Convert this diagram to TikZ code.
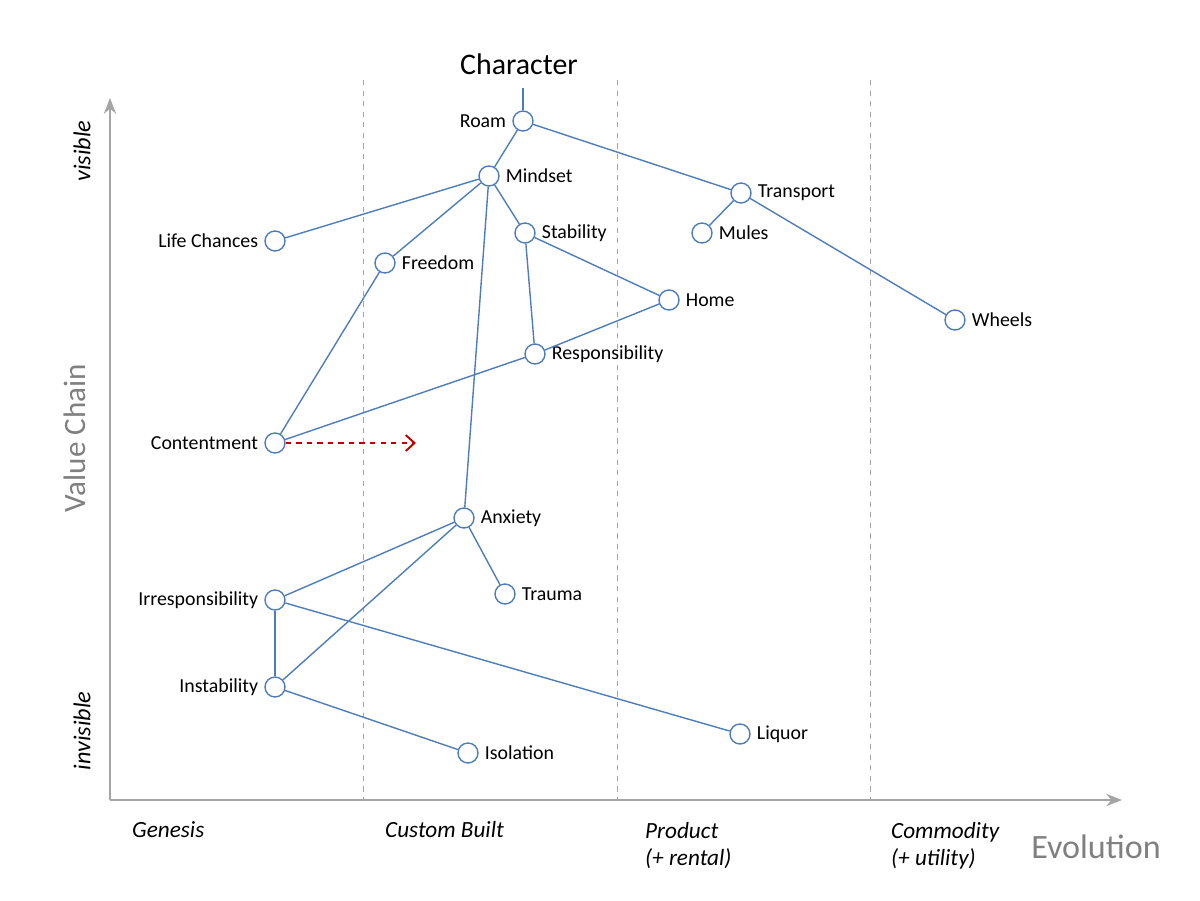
\documentclass[tikz,border=0pt]{standalone}
\usepackage{fontspec}
\setmainfont{Carlito}
\usetikzlibrary{arrows.meta}
\definecolor{mapblue}{RGB}{79,125,186}
\definecolor{axisgray}{RGB}{165,165,165}
\definecolor{titlegray}{RGB}{128,128,128}
\definecolor{movered}{RGB}{192,0,0}

\begin{document}
\begin{tikzpicture}[x=0.02cm,y=-0.02cm]
    \tikzstyle{component}=[circle,draw=mapblue,fill=white,line width=0.8pt,minimum size=0.4cm,inner sep=0pt,label distance=3pt]
    \tikzstyle{link}=[draw=mapblue,line width=0.8pt]
    \tikzstyle{axis}=[draw=axisgray,line width=1.2pt,-{Stealth[length=9pt,width=7pt]}]
    \tikzstyle{stage}=[draw=axisgray,dashed,line width=0.5pt]
    \tikzstyle{phase}=[anchor=west,align=left,font=\fontsize{13.2}{15.5}\selectfont\itshape]
    \tikzset{every label/.style={font=\fontsize{11.3}{13}\selectfont}}

    \useasboundingbox (0,0) rectangle (1200,900);

    % Axes and evolution stages
    \coordinate (origin) at (110,800);
    \coordinate (ytop) at (110,98);
    \coordinate (xend) at (1122,800);
    \foreach \x in {363,617,870}
        \draw[stage] (\x,80) -- (\x,800);
    \draw[axis] (origin) -- (ytop);
    \draw[axis] (origin) -- (xend);

    \node[rotate=90,font=\fontsize{13.8}{15}\selectfont\itshape] (vis) at (82,151) {visible};
    \node[rotate=90,font=\fontsize{13.8}{15}\selectfont\itshape] (invis) at (82,731) {invisible};
    \node[rotate=90,text=titlegray,font=\fontsize{17.7}{20}\selectfont] (vc) at (75,438) {Value Chain};
    \node[text=titlegray,font=\fontsize{19.4}{22}\selectfont] (evo) at (1096,847) {Evolution};

    \node[phase] (genesis) at (126,830) {Genesis};
    \node[phase] (custom) at (379,830) {Custom Built};
    \node[phase,anchor=north west] (product) at (639,816) {Product\\(+ rental)};
    \node[phase,anchor=north west] (commodity) at (885,816) {Commodity\\(+ utility)};

    % User need
    \node[font=\fontsize{17}{20}\selectfont] (user) at (519,64) {Character};
    \coordinate (need) at (523,88);

    % Components
    \node[component,label=left:Roam] (roam) at (523,121) {};
    \node[component,label=right:Mindset] (mindset) at (489,176) {};
    \node[component,label=right:Transport] (transport) at (741,193) {};
    \node[component,label=right:Mules] (mules) at (702,233) {};
    \node[component,label=left:Life Chances] (chances) at (275,241) {};
    \node[component,label=right:Stability] (stability) at (525,233) {};
    \node[component,label=right:Freedom] (freedom) at (385,263) {};
    \node[component,label=right:Home] (home) at (669,300) {};
    \node[component,label=right:Wheels] (wheels) at (955,320) {};
    \node[component,label=right:Responsibility] (resp) at (535,354) {};
    \node[component,label=left:Contentment] (content) at (275,443) {};
    \node[component,label=right:Anxiety] (anxiety) at (464,518) {};
    \node[component,label=right:Trauma] (trauma) at (505,594) {};
    \node[component,label=left:Irresponsibility] (irresp) at (275,600) {};
    \node[component,label=left:Instability] (instab) at (275,687) {};
    \node[component,label=right:Liquor] (liquor) at (740,734) {};
    \node[component,label=right:Isolation] (isolation) at (468,753) {};

    % Dependencies
    \draw[link] (need) -- (roam);
    \foreach \a/\b in {roam/mindset,roam/transport,transport/mules,transport/wheels,
                       mindset/chances,mindset/freedom,mindset/stability,mindset/anxiety,
                       stability/home,stability/resp,freedom/content,content/resp,resp/home,
                       anxiety/trauma,anxiety/irresp,anxiety/instab,irresp/instab,
                       irresp/liquor,instab/isolation}
        \draw[link] (\a) -- (\b);

    % Movement
    \coordinate (moveto) at (416,443);
    \draw[movered,dashed,line width=1.1pt,-{Straight Barb[length=5pt,width=9pt]}] (content) -- (moveto);
\end{tikzpicture}
\end{document}
